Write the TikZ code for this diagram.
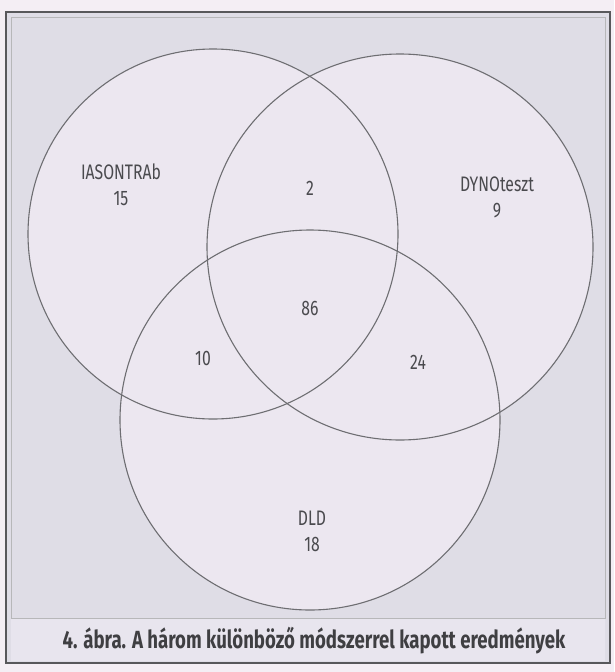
\documentclass[tikz,border=0pt]{standalone}
\usepackage{fontspec}
\setmainfont{Fira Sans}[FakeStretch=0.75]
\definecolor{pagebg}{HTML}{F4EEF4}
\definecolor{framebg}{HTML}{DFDDE6}
\definecolor{circbg}{HTML}{ECE7F0}
\definecolor{capbg}{HTML}{E8E5EE}
\definecolor{linecol}{HTML}{6E6E72}
\definecolor{txtcol}{HTML}{4A4A4E}
\tikzset{
  venn/.style={circle, draw=linecol, line width=1.1pt, inner sep=0pt},
  lbl/.style={text=txtcol, font=\fontsize{21}{26}\selectfont, align=center},
  captext/.style={text=txtcol!85!black, font=\bfseries\fontsize{24.8}{28}\selectfont},
}
\begin{document}
\begin{tikzpicture}[x=1pt,y=-1pt]
\useasboundingbox (0,0) rectangle (614,672);
\fill[pagebg] (0,0) rectangle (614,672);
% frame
\draw[linecol!80!black, line width=1.3pt, fill=framebg] (6,12) rectangle (610,663);
\draw[linecol!50, line width=0.8pt] (11,17) rectangle (605,618);
\fill[capbg] (11,619) rectangle (605,661);
% circle fills
\fill[circbg] (213,234) circle[radius=185];
\fill[circbg] (400,247) circle[radius=193];
\fill[circbg] (310,420) circle[radius=190];
% circles
\node[venn, minimum size=370pt] (ia) at (213,234) {};
\node[venn, minimum size=386pt] (dy) at (400,247) {};
\node[venn, minimum size=380pt] (dl) at (310,420) {};
% labels
\node[lbl] (lia) at (121,185) {IASONTRAb\\15};
\node[lbl] (l2) at (310,188) {2};
\node[lbl] (ldy) at (497,197) {DYNOteszt\\9};
\node[lbl] (l86) at (310,308) {86};
\node[lbl] (l10) at (203,358) {10};
\node[lbl] (l24) at (418,362) {24};
\node[lbl] (ldl) at (312,531) {DLD\\18};
\node[captext] (caption) at (314,641) {4. ábra. A három különböző módszerrel kapott eredmények};
\end{tikzpicture}
\end{document}
